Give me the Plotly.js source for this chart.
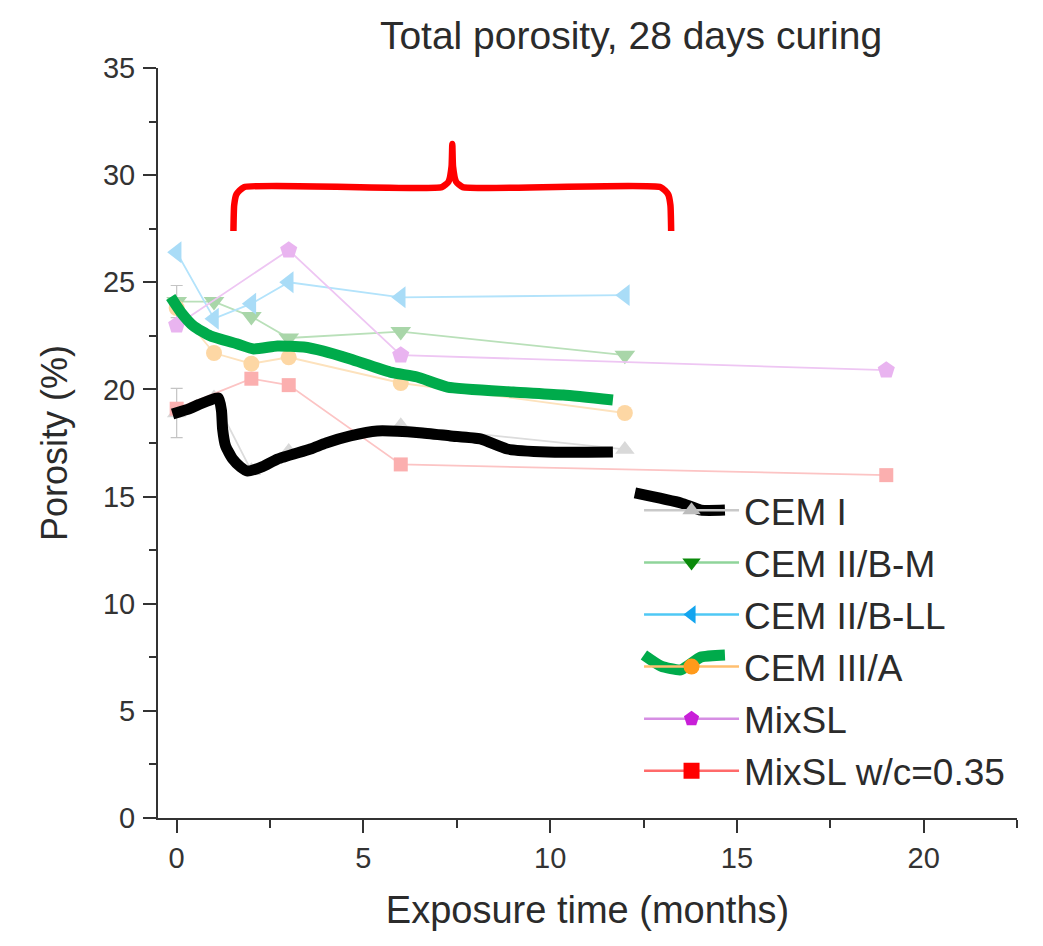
<!DOCTYPE html>
<html>
<head>
<meta charset="utf-8">
<script src="https://cdn.plot.ly/plotly-3.0.1.min.js"></script>
<style>html,body{margin:0;padding:0;background:#fff;}#chart{width:1043px;height:946px;}</style>
</head>
<body>
<div id="chart"></div>
<script>
// ---- data (months, porosity %) ----
const seriesNames = ["CEM I", "CEM II/B-M", "CEM II/B-LL", "CEM III/A", "MixSL", "MixSL w/c=0.35"];

const cem1X = [0, 1, 2, 3, 6, 12];
const cem1Y = [18.9, 19.6, 16.2, 17.1, 18.3, 17.2];
const cem1Err = [1.15, 0, 0, 0, 0, 0];

const cem2bmX = [0, 1, 2, 3, 6, 12];
const cem2bmY = [24.1, 24.1, 23.4, 22.4, 22.7, 21.6];
const cem2bmErr = [0.75, 0, 0, 0, 0, 0];

const cem2bllX = [0, 1, 2, 3, 6, 12];
const cem2bllY = [26.4, 23.3, 24.0, 25.0, 24.3, 24.4];

const cem3aX = [0, 1, 2, 3, 6, 12];
const cem3aY = [23.8, 21.7, 21.2, 21.5, 20.3, 18.9];

const mixslX = [0, 3, 6, 19];
const mixslY = [23.0, 26.5, 21.6, 20.9];

const mixslwcX = [0, 2, 3, 6, 19];
const mixslwcY = [19.1, 20.5, 20.2, 16.5, 16.0];

// hand-drawn overlay marks (in data units)
const markBlackX = [-0.11, 0.35, 0.6, 1.12, 1.2, 1.23, 1.31, 1.5, 1.71, 1.9, 2.3, 2.7, 3.58, 4.0, 4.65, 5.37, 6.5, 7.33, 8.13, 8.85, 9.92, 11.68];
const markBlackY = [18.85, 19.1, 19.3, 19.6, 19.0, 18.15, 17.36, 16.75, 16.38, 16.19, 16.4, 16.75, 17.22, 17.5, 17.83, 18.06, 17.98, 17.83, 17.69, 17.22, 17.08, 17.08];
const markGreenX = [-0.16, 0.11, 0.45, 0.91, 1.63, 2.06, 2.7, 3.4, 3.93, 4.65, 5.72, 6.44, 7.25, 9.01, 10.35, 11.68];
const markGreenY = [24.31, 23.61, 22.96, 22.49, 22.12, 21.89, 22.03, 21.98, 21.79, 21.42, 20.81, 20.58, 20.11, 19.88, 19.74, 19.51];
const legendBlackX = [12.27, 13.5, 14.04, 14.68];
const legendBlackY = [15.17, 14.7, 14.37, 14.37];
const legendGreenX = [12.51, 12.97, 13.5, 14.04, 14.68];
const legendGreenY = [7.61, 7.09, 6.91, 7.51, 7.61];
const bracketX = [1.52, 1.54, 1.6, 1.8, 7.1, 7.28, 7.36, 7.38, 7.40, 7.48, 7.66, 12.96, 13.16, 13.22, 13.24];
const bracketY = [27.39, 28.6, 29.1, 29.44, 29.44, 29.7, 30.4, 31.45, 30.4, 29.7, 29.44, 29.44, 29.1, 28.6, 27.39];

// ---- styles ----
const faded = [
  {line: "#dcdcdc", marker: "#d9d9d9", symbol: "triangle-up", size: 17},
  {line: "#b9e0b9", marker: "#a9d6a9", symbol: "triangle-down", size: 18},
  {line: "#b3e3fb", marker: "#a9dcf7", symbol: "triangle-left", size: 19},
  {line: "#fde2bd", marker: "#fdd7a4", symbol: "circle", size: 16},
  {line: "#eec6f3", marker: "#e9b4f0", symbol: "pentagon", size: 18},
  {line: "#fcc4c4", marker: "#fbafaf", symbol: "square", size: 14}
];
const strong = [
  {line: "#c9c9c9", marker: "#bdbdbd"},
  {line: "#8fd49a", marker: "#0a8a0a"},
  {line: "#4fc8f5", marker: "#13a5ef"},
  {line: "#ffbf70", marker: "#ff9a1a"},
  {line: "#d68ee3", marker: "#c81fd8"},
  {line: "#ff6a6a", marker: "#ff0000"}
];
const xs = [cem1X, cem2bmX, cem2bllX, cem3aX, mixslX, mixslwcX];
const ys = [cem1Y, cem2bmY, cem2bllY, cem3aY, mixslY, mixslwcY];
const errs = [cem1Err, cem2bmErr, null, null, null, null];

const traces = [];
for (let i = 0; i < seriesNames.length; i++) {
  const t = {
    x: xs[i], y: ys[i], type: "scatter", mode: "lines+markers",
    name: seriesNames[i], showlegend: false, hoverinfo: "skip",
    line: {color: faded[i].line, width: 1.8},
    marker: {color: faded[i].marker, symbol: faded[i].symbol, size: faded[i].size}
  };
  if (errs[i]) {
    t.error_y = {type: "data", array: errs[i], visible: true, color: "#c4c4c4", thickness: 1.2, width: 6};
  }
  traces.push(t);
}
// legend entries (strong colours, no data drawn)
for (let i = 0; i < seriesNames.length; i++) {
  traces.push({
    x: [null], y: [null], type: "scatter", mode: "lines+markers",
    name: seriesNames[i], legendgroup: "g" + i, showlegend: true,
    line: {color: strong[i].line, width: 2.5},
    marker: {color: strong[i].marker, symbol: faded[i].symbol, size: 16}
  });
}
// hand-drawn overlay marks
const over = (x, y, color, width) => ({x: x, y: y, type: "scatter", mode: "lines", showlegend: false,
  hoverinfo: "skip", line: {color: color, width: width, shape: "spline", smoothing: 0.5}});
traces.push(over(markBlackX, markBlackY, "#000000", 11));
traces.push(over(markGreenX, markGreenY, "#00ab4b", 11));
traces.push(over(legendBlackX, legendBlackY, "#000000", 11));
traces.push(over(legendGreenX, legendGreenY, "#00ab4b", 11));
traces.push({x: bracketX, y: bracketY, type: "scatter", mode: "lines", showlegend: false, hoverinfo: "skip",
  line: {color: "#ff0000", width: 6.5, shape: "spline", smoothing: 0.5}});

const fontFam = "Liberation Sans, Arial, sans-serif";
const layout = {
  width: 1043, height: 946,
  margin: {l: 158, r: 26, t: 68, b: 128},
  paper_bgcolor: "#ffffff", plot_bgcolor: "#ffffff",
  font: {family: fontFam, color: "#333333"},
  title: {text: "Total porosity, 28 days curing", font: {size: 39, color: "#2b2b2b", family: fontFam},
    x: 0.605, xanchor: "center", y: 0.963, yanchor: "middle"},
  xaxis: {
    range: [-0.5, 22.5], dtick: 5, tick0: 0, showgrid: false, zeroline: false,
    showline: true, linecolor: "#333", linewidth: 2,
    ticks: "outside", ticklen: 13, tickwidth: 2, tickcolor: "#333",
    minor: {dtick: 2.5, ticks: "outside", ticklen: 8, tickwidth: 2, tickcolor: "#333"},
    tickfont: {size: 29, color: "#333"},
    title: {text: "Exposure time (months)", font: {size: 38, color: "#2b2b2b"}, standoff: 24}
  },
  yaxis: {
    range: [0, 35], dtick: 5, tick0: 0, showgrid: false, zeroline: false,
    showline: true, linecolor: "#333", linewidth: 2,
    ticks: "outside", ticklen: 13, tickwidth: 2, tickcolor: "#333",
    minor: {dtick: 2.5, ticks: "outside", ticklen: 7, tickwidth: 2, tickcolor: "#333"},
    tickfont: {size: 29, color: "#333"},
    ticklabelstandoff: 2,
    title: {text: "Porosity (%)", font: {size: 36, color: "#2b2b2b"}, standoff: 24}
  },
  legend: {
    x: 0.56, xanchor: "left", y: 0.451, yanchor: "top",
    bgcolor: "rgba(0,0,0,0)", borderwidth: 0,
    font: {size: 37, color: "#2b2b2b"},
    itemwidth: 95, traceorder: "grouped", tracegroupgap: 1
  },
  showlegend: true
};

Plotly.newPlot("chart", traces, layout, {staticPlot: true, displayModeBar: false});
</script>
</body>
</html>
